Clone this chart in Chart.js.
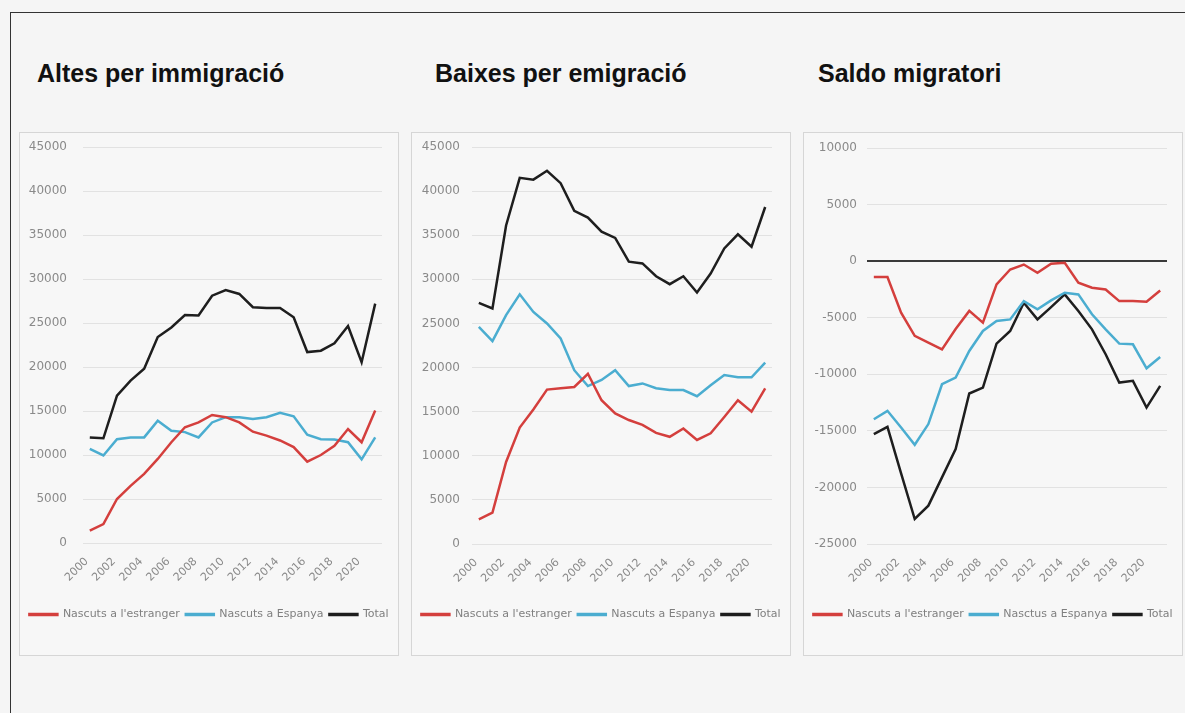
<!DOCTYPE html>
<html><head><meta charset="utf-8">
<script src="https://cdn.jsdelivr.net/npm/chart.js@4/dist/chart.umd.min.js"></script>
<style>
html,body{margin:0;padding:0;width:1185px;height:713px;overflow:hidden;background:#f5f5f5;}
.frame{position:absolute;left:10px;top:12px;width:1200px;height:720px;border-left:1px solid #333;border-top:1px solid #333;}
.title{position:absolute;top:61px;font:bold 25px "Liberation Sans",Arial,sans-serif;line-height:25px;color:#111;white-space:nowrap;}
.panel{position:absolute;top:132px;width:380px;height:524px;box-sizing:border-box;border:1px solid #d6d6d6;background:#f7f7f7;}
.wrap{position:absolute;left:0;top:0;width:378px;height:522px;}
</style></head>
<body>
<div class="frame"></div>
<div class="title" style="left:37px">Altes per immigració</div>
<div class="title" style="left:435px">Baixes per emigració</div>
<div class="title" style="left:818px">Saldo migratori</div>
<div class="panel" style="left:19px"><div class="wrap"><canvas id="c1"></canvas></div></div>
<div class="panel" style="left:411px"><div class="wrap"><canvas id="c2"></canvas></div></div>
<div class="panel" style="left:803px"><div class="wrap"><canvas id="c3"></canvas></div></div>
<script>
const years = ['2000','2001','2002','2003','2004','2005','2006','2007','2008','2009','2010','2011','2012','2013','2014','2015','2016','2017','2018','2019','2020','2021'];
const tickLabels = ['2000','2002','2004','2006','2008','2010','2012','2014','2016','2018','2020'];

const altesEstranger = [1400,2150,5000,6500,7850,9550,11450,13150,13700,14550,14300,13700,12650,12200,11650,10900,9250,10000,11050,12950,11450,15050];
const altesEspanya   = [10700,9950,11800,12000,12000,13900,12750,12600,12000,13700,14300,14300,14100,14300,14800,14400,12300,11800,11750,11450,9500,12000];
const altesTotal     = [12000,11900,16750,18450,19800,23400,24500,25900,25850,28100,28750,28300,26800,26700,26700,25650,21700,21850,22700,24650,20550,27200];

const baixesEstranger = [2800,3550,9300,13200,15250,17500,17650,17800,19300,16300,14800,14050,13500,12600,12150,13100,11800,12550,14400,16300,15000,17650];
const baixesEspanya   = [24600,23000,25950,28300,26300,25000,23300,19700,17900,18600,19700,17900,18200,17650,17450,17450,16750,18000,19150,18900,18900,20550];
const baixesTotal     = [27340,26700,36100,41500,41300,42300,40900,37760,37000,35400,34700,32000,31800,30350,29450,30350,28500,30650,33500,35100,33700,38200];

const saldoEstranger = [-1410,-1410,-4560,-6600,-7200,-7800,-6000,-4400,-5440,-2060,-735,-300,-1030,-235,-150,-1900,-2350,-2500,-3530,-3530,-3590,-2590];
const saldoEspanya   = [-13970,-13230,-14700,-16230,-14400,-10880,-10290,-7940,-6170,-5290,-5150,-3530,-4260,-3470,-2790,-2940,-4700,-6030,-7290,-7350,-9470,-8470];
const saldoTotal     = [-15290,-14640,-18760,-22790,-21610,-19110,-16610,-11700,-11170,-7290,-6170,-3680,-5150,-4060,-2940,-4410,-6030,-8230,-10730,-10580,-12940,-11030];

const seriesNames1 = ["Nascuts a l'estranger", "Nascuts a Espanya", "Total"];
const seriesNames3 = ["Nascuts a l'estranger", "Nasctus a Espanya", "Total"];

const RED = '#d43f3d', BLUE = '#4badd0', BLACK = '#1e1e1e';
Chart.defaults.font.family = '"DejaVu Sans", sans-serif';
Chart.defaults.color = '#888';

function ds(label, data, color) {
  return {label, data, borderColor: color, backgroundColor: color, borderWidth: 2.5,
          pointRadius: 0, pointHoverRadius: 0, tension: 0, fill: false};
}
function makeChart(id, names, sets, yMin, yMax, cfg) {
  const colors = [RED, BLUE, BLACK];
  new Chart(document.getElementById(id), {
    type: 'line',
    data: {labels: years, datasets: sets.map((d, i) => ds(names[i], d, colors[i]))},
    options: {
      responsive: true, maintainAspectRatio: false, animation: false, devicePixelRatio: 1,
      layout: {padding: {left: 0, right: 0, top: cfg.top, bottom: cfg.bottom}},
      plugins: {
        tooltip: {enabled: false},
        legend: {
          position: 'bottom',
          labels: {boxWidth: 28, boxHeight: 1, padding: 6, color: '#7f7f7f',
                   font: {size: 11}}
        }
      },
      scales: {
        x: {
          offset: true,
          grid: {display: false, drawTicks: false},
          border: {display: false},
          ticks: {autoSkip: false, minRotation: 45, maxRotation: 45, padding: 12, labelOffset: -3,
                  font: {size: 11}, color: '#8a8a8a',
                  callback: (v, i) => tickLabels.includes(years[i]) ? years[i] : ''},
          afterFit: s => { s.height = cfg.xH; }
        },
        y: {
          min: yMin, max: yMax,
          grid: {drawTicks: false,
                 color: c => (cfg.zero && c.tick && c.tick.value === 0) ? '#3a3a3a' : '#e2e2e2',
                 lineWidth: c => (cfg.zero && c.tick && c.tick.value === 0) ? 2 : 1},
          border: {display: false},
          ticks: {stepSize: 5000, padding: cfg.tickPad, font: {size: 12}, color: '#8a8a8a',
                  callback: v => String(v)},
          afterFit: s => { s.width = cfg.left; s.paddingTop = 0; s.paddingBottom = 0; }
        },
        yR: {
          type: 'linear', position: 'right', display: true,
          grid: {display: false, drawTicks: false}, border: {display: false},
          ticks: {display: false},
          afterFit: s => { s.width = cfg.right; s.paddingTop = 0; s.paddingBottom = 0; }
        }
      }
    }
  });
}

makeChart('c1', seriesNames1, [altesEstranger, altesEspanya, altesTotal], 0, 45000,
  {left: 63, right: 16, top: 14, xH: 60, bottom: 25, tickPad: 16});
makeChart('c2', seriesNames1, [baixesEstranger, baixesEspanya, baixesTotal], 0, 45000,
  {left: 60, right: 18, top: 14, xH: 59, bottom: 25, tickPad: 12});
makeChart('c3', seriesNames3, [saldoEstranger, saldoEspanya, saldoTotal], -25000, 10000,
  {left: 63, right: 15, top: 15, xH: 59, bottom: 25, tickPad: 10, zero: true});
</script>
</body></html>
